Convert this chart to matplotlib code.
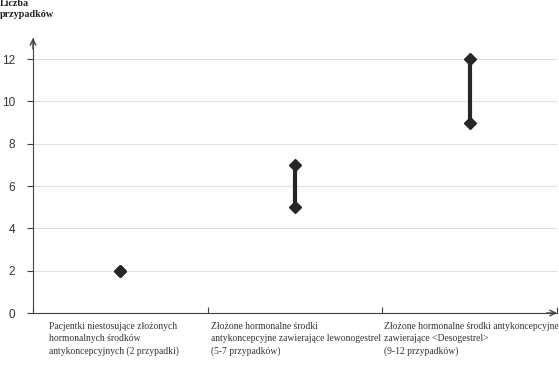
import matplotlib
matplotlib.use("Agg")
import matplotlib.pyplot as plt

categories = [
    "Pacjentki niestosujące złożonych\nhormonalnych środków\nantykoncepcyjnych (2 przypadki)",
    "Złożone hormonalne środki\nantykoncepcyjne zawierające lewonogestrel\n(5-7 przypadków)",
    "Złożone hormonalne środki antykoncepcyjne\nzawierające <Desogestrel>\n(9-12 przypadków)",
]
low_values = [2, 5, 9]
high_values = [2, 7, 12]
y_ticks = [0, 2, 4, 6, 8, 10, 12]
y_title = "Liczba\nprzypadków"

fig = plt.figure(figsize=(5.59, 3.70), dpi=100)
ax = fig.add_axes([33/559, 1-313/370, (557-33)/559, (313-38)/370])

color = "#262626"
xs = [i + 0.5 for i in range(len(categories))]
for x, lo, hi in zip(xs, low_values, high_values):
    if hi != lo:
        ax.plot([x, x], [lo, hi], color=color, lw=3, solid_capstyle="butt", zorder=3)
    ax.plot([x, x], [lo, hi], linestyle="none", marker="D", ms=6.5, color=color, zorder=4)

ax.set_xlim(0, len(categories))
ax.set_ylim(0, 13)
ax.set_yticks(y_ticks)
ax.set_yticklabels([str(v) for v in y_ticks], fontsize=8.5, color="#333333", family="Liberation Sans")
ax.set_xticks(range(len(categories) + 1))
ax.set_xticklabels([])
ax.tick_params(axis="y", length=4, width=0.8, color="#404040", pad=9)
ax.tick_params(axis="x", length=4, width=0.8, color="#404040", direction="in")
for v in y_ticks[1:]:
    ax.axhline(v, color="#e0e0e0", lw=0.8, zorder=1)

for s in ["top", "right"]:
    ax.spines[s].set_visible(False)
ax.spines["left"].set_color("#404040")
ax.spines["bottom"].set_color("#404040")

ax.annotate("", xy=(0, 1.0), xytext=(0, 0.96), xycoords="axes fraction",
            arrowprops=dict(arrowstyle="->", color="#404040", lw=1, shrinkA=0, shrinkB=0))
ax.annotate("", xy=(1.0, 0), xytext=(0.98, 0), xycoords="axes fraction",
            arrowprops=dict(arrowstyle="->", color="#404040", lw=1, shrinkA=0, shrinkB=0))

label_offsets = [0.09, 0.02, 0.012]
for i, lab in enumerate(categories):
    ax.text(i + label_offsets[i], -0.033, lab, transform=ax.get_xaxis_transform(), ha="left", va="top",
            fontsize=6.9, family="Liberation Serif", color="#333333", linespacing=1.45)

fig.text(0.0, 1 + 1/370, y_title, ha="left", va="top", fontsize=7.3, fontweight="bold",
         family="Liberation Serif", color="#222222", linespacing=1.3)

fig.savefig("out.png", dpi=100)
